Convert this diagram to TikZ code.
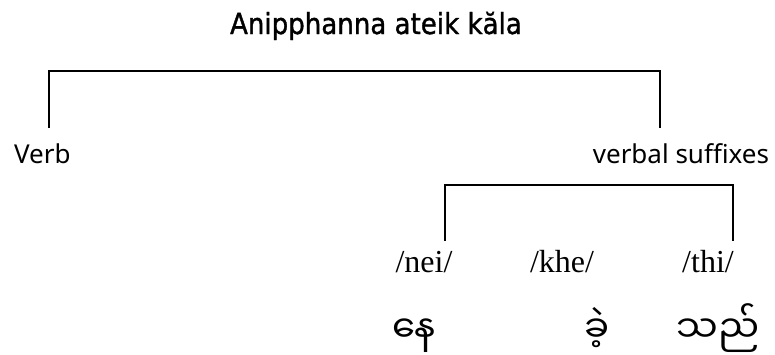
\documentclass[tikz,border=0pt]{standalone}
\usepackage{fontspec}
\setmainfont{Noto Sans}
\newfontfamily\titlefont[FakeBold=1.2]{DejaVu Sans Condensed}
\newfontfamily\romanfont{Liberation Serif}
\newfontfamily\myanmarfont[Script=Myanmar]{Noto Sans Myanmar UI}
\usetikzlibrary{positioning}

\begin{document}
\begin{tikzpicture}[x=1pt, y=-1pt, line width=2pt,
    lbl/.style={inner sep=0pt, font=\fontsize{26}{30}\selectfont},
    phon/.style={inner sep=0pt, anchor=base, font=\romanfont\fontsize{32}{36}\selectfont},
    script/.style={inner sep=0pt, anchor=base, font=\myanmarfont\fontsize{37}{44}\selectfont}]
    \useasboundingbox (0,0) rectangle (775,354);

    % Nodes
    \node[inner sep=0pt, anchor=base, font=\titlefont\fontsize{29}{33}\selectfont] (title) at (376,34) {Anipphanna ateik kăla};
    \node[lbl, anchor=base west] (verb) at (13,163) {Verb};
    \node[lbl, anchor=base east] (sfx) at (770,163) {verbal suffixes};
    \node[phon] (nei) at (424,272) {/nei/};
    \node[phon] (khe) at (562,272) {/khe/};
    \node[phon] (thi) at (708,272) {/thi/};
    \node[script] (mnei) at (414,342) {နေ};
    \node[script] (mkhe) at (597,342) {ခဲ့};
    \node[script] (mthi) at (718,342) {သည်};

    % Brackets
    \coordinate (verbfoot) at (49,128);
    \coordinate (sfxfoot) at (660,128);
    \coordinate (neifoot) at (445,241);
    \coordinate (thifoot) at (733,241);
    \draw (verbfoot) -- ++(0,-57) -| (sfxfoot);
    \draw (neifoot) -- ++(0,-56) -| (thifoot);
\end{tikzpicture}
\end{document}
